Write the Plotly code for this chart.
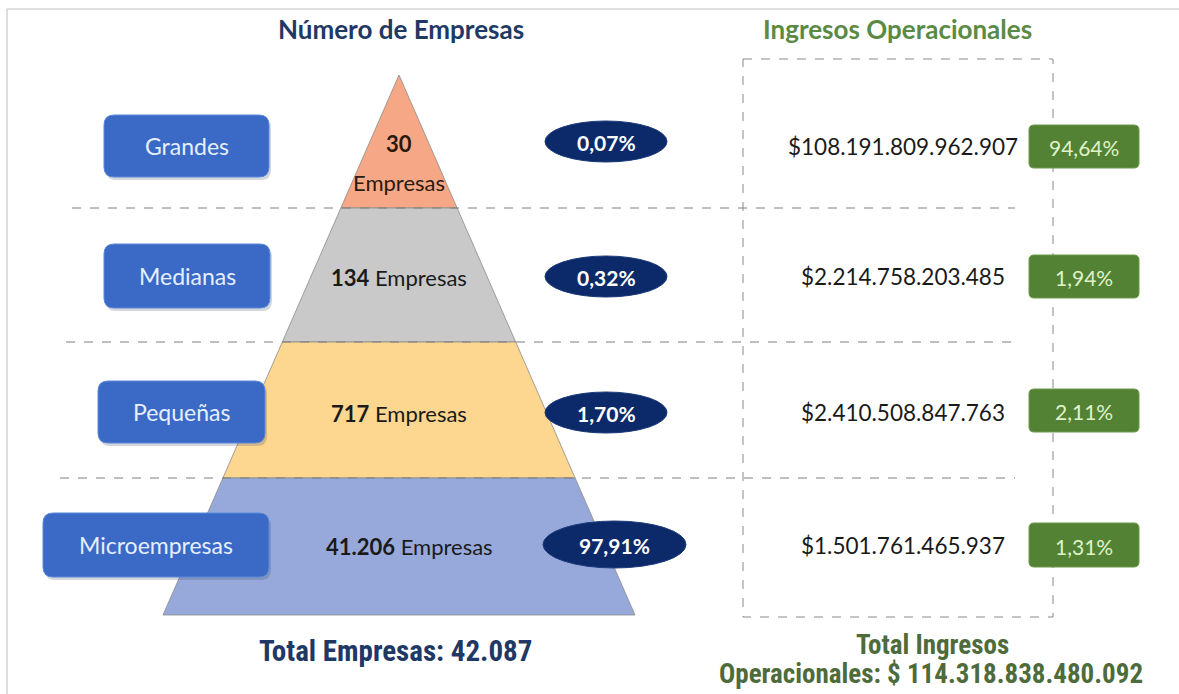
import plotly.graph_objects as go

# ---------------- data ----------------
categorias = ["Grandes", "Medianas", "Pequeñas", "Microempresas"]
num_empresas = [30, 134, 717, 41206]
pct_empresas = [0.07, 0.32, 1.70, 97.91]
ingresos = [108191809962907, 2214758203485, 2410508847763, 1501761465937]
pct_ingresos = [94.64, 1.94, 2.11, 1.31]
total_empresas = 42087
total_ingresos = 114318838480092

titulo_izq = "Número de Empresas"
titulo_der = "Ingresos Operacionales"


def miles(n):
    return f"{n:,}".replace(",", ".")


def pct(v):
    return f"{v:.2f}".replace(".", ",") + "%"


# ---------------- layout geometry ----------------
W, H = 1179, 694
apex_x, apex_y = 399, 75
bounds_y = [75, 208, 342, 478, 615]
slope = 236 / (615 - 75)
row_y = [146, 276, 412, 545]
pyr_colors = ["#f6a886", "#c9c9c9", "#fdd68f", "#97a9da"]

navy = "#1f3864"
green_title = "#5b8a45"
green_dark = "#4e6b3c"
FONT = "Lato, Open Sans, sans-serif"
NARROW = "Liberation Sans Narrow, Roboto Condensed, Roboto, Arial, sans-serif"

fig = go.Figure()

# pyramid segments
for i in range(4):
    yt, yb = bounds_y[i], bounds_y[i + 1]
    ht, hb = (yt - apex_y) * slope, (yb - apex_y) * slope
    xs = [apex_x - ht, apex_x + ht, apex_x + hb, apex_x - hb, apex_x - ht]
    ys = [yt, yt, yb, yb, yt]
    fig.add_trace(go.Scatter(x=xs, y=ys, mode="lines", fill="toself",
                             fillcolor=pyr_colors[i],
                             line=dict(color="#8a8a8a", width=0.8),
                             hoverinfo="skip", showlegend=False))


def rrect(x0, y0, x1, y1, r):
    return (f"M {x0+r},{y0} L {x1-r},{y0} Q {x1},{y0} {x1},{y0+r} "
            f"L {x1},{y1-r} Q {x1},{y1} {x1-r},{y1} L {x0+r},{y1} "
            f"Q {x0},{y1} {x0},{y1-r} L {x0},{y0+r} Q {x0},{y0} {x0+r},{y0} Z")


shapes = []
annotations = []

# frame
shapes.append(dict(type="line", x0=7, x1=W, y0=9, y1=9, line=dict(color="#d4d4d4", width=1.5)))
shapes.append(dict(type="line", x0=7, x1=7, y0=9, y1=H, line=dict(color="#d4d4d4", width=1.5)))

# dashed horizontal separators
for yb, x0 in zip(bounds_y[1:4], [72, 66, 60]):
    shapes.append(dict(type="line", x0=x0, x1=1015, y0=yb, y1=yb,
                       line=dict(color="#7f7f7f", width=1, dash="dash")))

# dashed revenue box
shapes.append(dict(type="rect", x0=743, x1=1053, y0=59, y1=617,
                   line=dict(color="#8a8a8a", width=1, dash="dash")))

# category buttons
btn_x = [(104, 269), (104, 270), (98, 265), (43, 269)]
btn_h = [62, 64, 62, 64]
for i, cat in enumerate(categorias):
    x0, x1 = btn_x[i]
    y0, y1 = row_y[i] - btn_h[i] / 2, row_y[i] + btn_h[i] / 2
    shapes.append(dict(type="path", path=rrect(x0 + 2, y0 + 3, x1 + 2, y1 + 3, 10),
                       fillcolor="rgba(60,70,100,0.22)", line=dict(width=0)))
    shapes.append(dict(type="path", path=rrect(x0, y0, x1, y1, 10),
                       fillcolor="#3a6ac6", line=dict(color="#5b88d8", width=1)))
    annotations.append(dict(x=(x0 + x1) / 2, y=row_y[i], text=cat, showarrow=False,
                            font=dict(family=FONT, size=23, color="#e6efff")))

# ellipses with % of companies
ell = [(545, 667, 121, 162), (545, 667, 256, 297), (545, 667, 392, 433), (543, 686, 521, 568)]
for i, v in enumerate(pct_empresas):
    x0, x1, y0, y1 = ell[i]
    shapes.append(dict(type="circle", x0=x0, x1=x1, y0=y0, y1=y1,
                       fillcolor="#0c2a6a", line=dict(color="#1b3a7a", width=1)))
    annotations.append(dict(x=(x0 + x1) / 2, y=(y0 + y1) / 2 + 1, text=f"<b>{pct(v)}</b>",
                            showarrow=False, font=dict(family=FONT, size=21, color="#ffffff")))

# counts on pyramid
annotations.append(dict(x=399, y=143, text=f"<b>{miles(num_empresas[0])}</b>", showarrow=False,
                        font=dict(family=FONT, size=22, color="#2a1a10")))
annotations.append(dict(x=399, y=182, text="Empresas", showarrow=False,
                        font=dict(family=FONT, size=22, color="#2a1a10")))
count_x = [None, 399, 399, 409]
for i in range(1, 4):
    annotations.append(dict(x=count_x[i], y=row_y[i] + 1,
                            text=f"<b>{miles(num_empresas[i])}</b> Empresas", showarrow=False,
                            font=dict(family=FONT, size=22, color="#1a1a1a")))

# revenues
green_boxes = [(125, 168), (255, 298), (389, 432), (523, 567)]
for i, v in enumerate(ingresos):
    annotations.append(dict(x=903, y=row_y[i], text=f"${miles(v)}", showarrow=False,
                            font=dict(family=FONT, size=22.5, color="#1a1a1a")))
    y0, y1 = green_boxes[i]
    shapes.append(dict(type="path", path=rrect(1029, y0, 1139, y1, 5),
                       fillcolor="#548235", line=dict(color="#6a9a48", width=1)))
    annotations.append(dict(x=1084, y=(y0 + y1) / 2 + 1, text=pct(pct_ingresos[i]), showarrow=False,
                            font=dict(family=FONT, size=21, color="#dff3c8")))

# titles
annotations.append(dict(x=401, y=29, text=f"<b>{titulo_izq}</b>", showarrow=False,
                        font=dict(family=FONT, size=26, color=navy)))
annotations.append(dict(x=897, y=29, text=f"<b>{titulo_der}</b>", showarrow=False,
                        font=dict(family=FONT, size=26, color=green_title)))

# totals
annotations.append(dict(x=395, y=651, text=f"<b>Total Empresas: {miles(total_empresas)}</b>",
                        showarrow=False, font=dict(family=NARROW, size=29, color=navy)))
annotations.append(dict(x=932, y=645, text="<b>Total Ingresos</b>",
                        showarrow=False, font=dict(family=NARROW, size=27, color=green_dark)))
annotations.append(dict(x=931, y=674, text=f"<b>Operacionales: $ {miles(total_ingresos)}</b>",
                        showarrow=False, font=dict(family=NARROW, size=27, color=green_dark)))

for a in annotations:
    a.setdefault("xref", "x")
    a.setdefault("yref", "y")
    a.setdefault("xanchor", "center")
    a.setdefault("yanchor", "middle")

for s in shapes:
    s.setdefault("xref", "x")
    s.setdefault("yref", "y")
    s["layer"] = "above"

fig.update_layout(
    width=W, height=H,
    margin=dict(l=0, r=0, t=0, b=0),
    paper_bgcolor="white", plot_bgcolor="white",
    xaxis=dict(range=[0, W], visible=False, fixedrange=True),
    yaxis=dict(range=[H, 0], visible=False, fixedrange=True),
    shapes=shapes, annotations=annotations,
    showlegend=False,
)

fig.write_html("out.html", config={"displayModeBar": False},
               post_script="document.body.style.margin='0';document.body.style.overflow='hidden';")
